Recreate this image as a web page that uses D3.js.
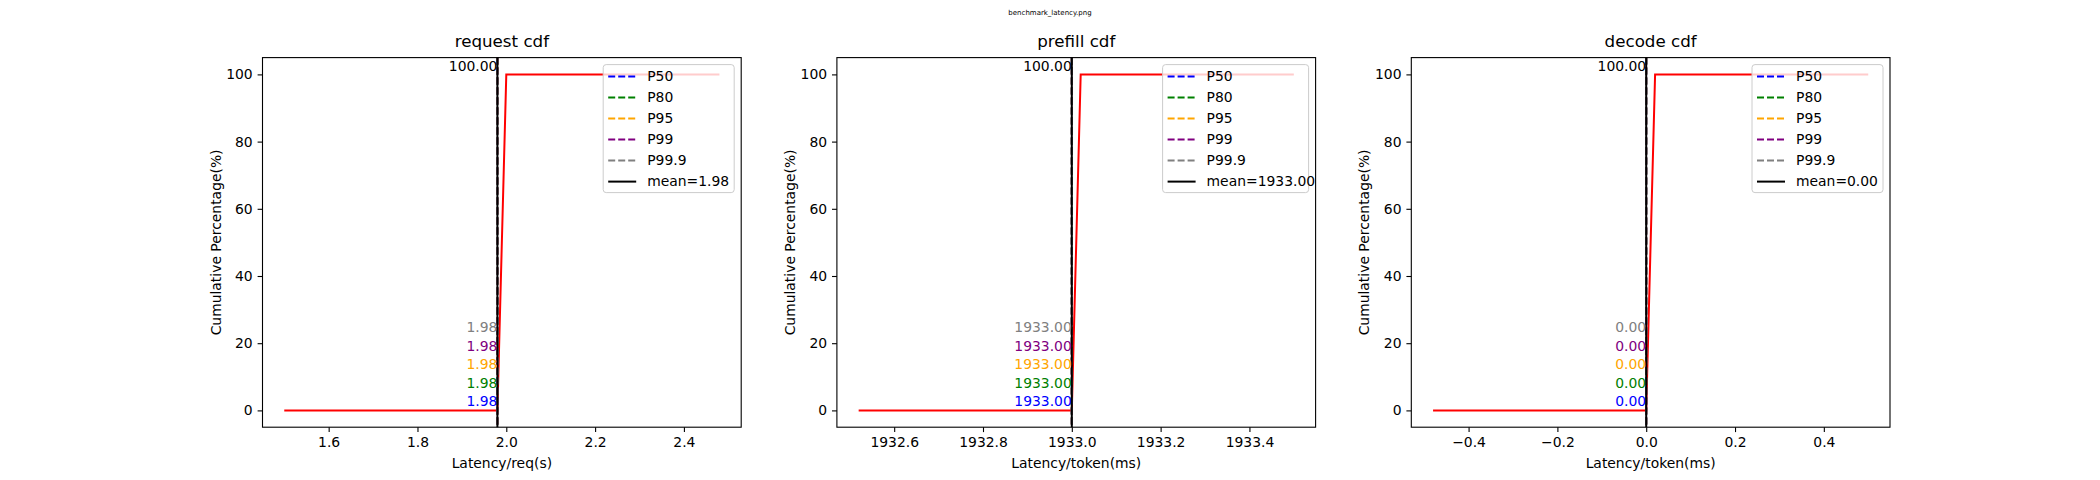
<!DOCTYPE html>
<html><head><meta charset="utf-8">
<script src="https://cdn.jsdelivr.net/npm/d3@7"></script>
<style>body{margin:0;background:#fff} text{font-family:"DejaVu Sans",sans-serif}</style>
</head><body>
<svg id="fig" width="2100" height="480"></svg>
<script>
// chart data
var titles = ["request cdf", "prefill cdf", "decode cdf"];
var xLabels = ["Latency/req(s)", "Latency/token(ms)", "Latency/token(ms)"];
var means = [1.98, 1933.00, 0.00];
var meanText = ["1.98", "1933.00", "0.00"];
var cdfX = [
  [1.50, 1.98, 2.00, 2.48],
  [1932.52, 1933.00, 1933.02, 1933.50],
  [-0.48, 0.00, 0.02, 0.50]
];
var cdfY = [0, 0, 100, 100];
var xTicks = [
  [1.6, 1.8, 2.0, 2.2, 2.4],
  [1932.6, 1932.8, 1933.0, 1933.2, 1933.4],
  [-0.4, -0.2, 0.0, 0.2, 0.4]
];
var yTicks = [0, 20, 40, 60, 80, 100];
var pctNames = ["P50", "P80", "P95", "P99", "P99.9"];
var pctColors = ["blue", "green", "orange", "purple", "gray"];

var svg = d3.select("#fig");
var fs = 13.9;
var axTop = 57.6, axBottom = 427.2;
var axW = 478.7, gap = 95.7, left0 = 262.5;

svg.append("text").attr("x", 1050).attr("y", 15).attr("text-anchor", "middle")
  .style("font-size", "7px").text("benchmark_latency.png");

titles.forEach(function(t, i) {
  var L = left0 + i * (axW + gap), R = L + axW;
  var ext = d3.extent(cdfX[i]), pad = (ext[1] - ext[0]) * 0.05;
  var x = d3.scaleLinear().domain([ext[0] - pad, ext[1] + pad]).range([L, R]);
  var y = d3.scaleLinear().domain([-5, 105]).range([axBottom, axTop]);
  var g = svg.append("g");

  // axes
  var xa = g.append("g").attr("transform", "translate(0," + axBottom + ")")
    .call(d3.axisBottom(x).tickValues(xTicks[i]).tickSize(4.9).tickPadding(4.9)
      .tickFormat(function(d) { return d3.format(".1f")(d).replace("-", "\u2212"); }));
  var ya = g.append("g").attr("transform", "translate(" + L + ",0)")
    .call(d3.axisLeft(y).tickValues(yTicks).tickSize(4.9).tickPadding(4.9));
  [xa, ya].forEach(function(a) {
    a.select(".domain").remove();
    a.selectAll("text").style("font-size", fs + "px").attr("fill", "#000");
    a.selectAll("line").attr("stroke", "#000").attr("stroke-width", 1.1);
  });

  // cdf line
  g.append("path").datum(cdfX[i].map(function(v, k) { return [v, cdfY[k]]; }))
    .attr("fill", "none").attr("stroke", "red").attr("stroke-width", 2)
    .attr("d", d3.line().x(function(d) { return x(d[0]); }).y(function(d) { return y(d[1]); }));

  // percentile lines (all at the mean) and mean line
  pctColors.forEach(function(c) {
    g.append("line").attr("x1", x(means[i])).attr("x2", x(means[i]))
      .attr("y1", axTop).attr("y2", axBottom).attr("stroke", c).attr("stroke-width", 2)
      .attr("stroke-dasharray", "7,3");
  });
  g.append("line").attr("x1", x(means[i])).attr("x2", x(means[i]))
    .attr("y1", axTop).attr("y2", axBottom).attr("stroke", "#000").attr("stroke-width", 2);

  pctColors.forEach(function(c, k) {
    g.append("text").attr("x", x(means[i])).attr("y", y(2.7 + 5.5 * k))
      .attr("dy", "0.35em").attr("text-anchor", "end").attr("fill", c)
      .style("font-size", fs + "px").text(meanText[i]);
  });
  g.append("text").attr("x", x(means[i])).attr("y", y(102.6)).attr("dy", "0.35em")
    .attr("text-anchor", "end").style("font-size", fs + "px").text("100.00");

  // frame
  g.append("rect").attr("x", L).attr("y", axTop).attr("width", axW).attr("height", axBottom - axTop)
    .attr("fill", "none").attr("stroke", "#000").attr("stroke-width", 1.1);

  // legend
  var labels = pctNames.concat(["mean=" + meanText[i]]);
  var colors = pctColors.concat(["#000"]);
  var lw = i === 1 ? 146 : 131;
  var lx = R - 7 - lw, ly = axTop + 7, lh = 128;
  g.append("rect").attr("x", lx).attr("y", ly).attr("width", lw).attr("height", lh)
    .attr("rx", 3).attr("fill", "#fff").attr("fill-opacity", 0.8)
    .attr("stroke", "#ccc").attr("stroke-width", 1);
  labels.forEach(function(lab, k) {
    var cy = ly + 12 + k * 21;
    g.append("line").attr("x1", lx + 5).attr("x2", lx + 33).attr("y1", cy).attr("y2", cy)
      .attr("stroke", colors[k]).attr("stroke-width", 2)
      .attr("stroke-dasharray", k < 5 ? "7,3" : null);
    g.append("text").attr("x", lx + 44).attr("y", cy).attr("dy", "0.35em")
      .style("font-size", fs + "px").text(lab);
  });

  // titles & labels
  g.append("text").attr("x", (L + R) / 2).attr("y", axTop - 11).attr("text-anchor", "middle")
    .style("font-size", "16.7px").text(t);
  g.append("text").attr("x", (L + R) / 2).attr("y", 468).attr("text-anchor", "middle")
    .style("font-size", fs + "px").text(xLabels[i]);
  g.append("text").attr("transform", "translate(" + (L - 42) + "," + ((axTop + axBottom) / 2) + ") rotate(-90)")
    .attr("text-anchor", "middle").style("font-size", fs + "px").text("Cumulative Percentage(%)");
});
</script>
</body></html>
